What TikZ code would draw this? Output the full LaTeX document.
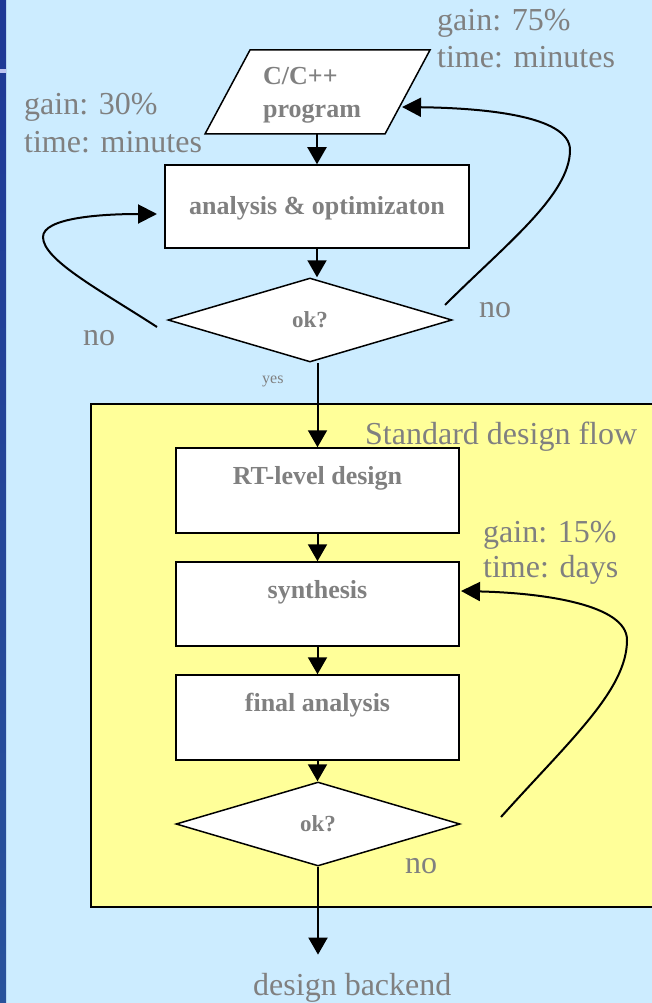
\documentclass[tikz,border=0pt]{standalone}
\usepackage{fontspec}
\setmainfont{Liberation Serif}
\usetikzlibrary{arrows.meta,shapes.geometric}
\definecolor{skyback}{RGB}{204,236,255}
\definecolor{flowyellow}{RGB}{255,255,153}
\definecolor{labelgray}{RGB}{128,128,128}
\definecolor{stripblue}{RGB}{30,56,150}
\definecolor{stripblueb}{RGB}{40,82,155}
\definecolor{stripband}{RGB}{190,195,240}

\begin{document}
\begin{tikzpicture}[x=1pt,y=-1pt,
  arr/.style={line width=2pt, -{Triangle[length=17pt,width=19pt]}},
  loopback/.style={line width=2pt, -{Triangle[length=19pt,width=19pt]}},
  stepbox/.style={draw, line width=1.5pt, fill=white, inner sep=0pt, text=labelgray,
    font=\fontsize{26}{32}\selectfont\bfseries},
  decision/.style={diamond, draw, line width=1.5pt, fill=white, inner sep=0pt, text=labelgray,
    font=\fontsize{23}{28}\selectfont\bfseries},
  note/.style={text=labelgray, inner sep=0pt, anchor=base west, font=\fontsize{32}{37}\selectfont},
]
\useasboundingbox (0,0) rectangle (652,1003);
% background and side strip
\fill[skyback] (0,0) rectangle (652,1003);
\shade[top color=stripblue, bottom color=stripblueb] (0,0) rectangle (6,1003);
\fill[stripband] (0,69) rectangle (6,73);

% standard design flow frame
\draw[line width=2pt, fill=flowyellow] (91,404) rectangle (670,907);
\node[note] (sdf) at (365,444) {Standard design flow};

% input program (parallelogram)
\draw[line width=1.5pt, fill=white] (250,50) -- (430,50) -- (385,134) -- (205,134) -- cycle;
\node[text=labelgray, inner sep=0pt, anchor=west, align=left,
  font=\fontsize{26}{33}\selectfont\bfseries] (prog) at (263,95) {C/C++\\program};
\coordinate (progbot) at (317,134);
\coordinate (progright) at (402,107);

% steps
\node[stepbox, minimum width=304pt, text height=49pt, text depth=34pt] (ana) at (317,206.5) {analysis \& optimizaton};
\node[decision, minimum width=284pt, minimum height=84pt] (d1) at (310,320) {ok?};
\node[stepbox, minimum width=283pt, text height=36pt, text depth=49pt] (rt) at (317.5,490.5) {RT-level design};
\node[stepbox, minimum width=283pt, text height=36pt, text depth=48pt] (syn) at (317.5,604) {synthesis};
\node[stepbox, minimum width=283pt, text height=36pt, text depth=49pt] (fin) at (317.5,717.5) {final analysis};
\node[decision, minimum width=284pt, minimum height=84pt] (d2) at (318,824) {ok?};
\node[note] (be) at (253,995) {design backend};

% main flow
\draw[arr] (progbot) -- (ana.north);
\draw[arr] (ana.south) -- (ana.south |- d1.north);
\draw[arr] (d1.south -| rt.north) -- (rt.north);
\draw[arr] (rt.south) -- (syn.north);
\draw[arr] (syn.south) -- (fin.north);
\draw[arr] (fin.south) -- (fin.south |- d2.north);
\draw[arr, shorten >=18pt] (d2.south) -- (d2.south |- be.north);

% feedback loops
\coordinate (loopa) at (445,305);
\draw[loopback] (loopa) .. controls (505,245) and (570,195) .. (570,150)
  .. controls (570,115) and (480,108) .. (progright);
\coordinate (loopb) at (157,327);
\coordinate (anain) at (157,214);
\draw[loopback] (loopb) .. controls (100,290) and (43,260) .. (43,237)
  .. controls (43,218) and (100,214) .. (anain);
\coordinate (loopc) at (501,817);
\coordinate (synin) at (461,591);
\draw[loopback] (loopc) .. controls (570,740) and (627,690) .. (627,640)
  .. controls (627,605) and (545,593) .. (synin);

% labels
\node[note] (g75) at (437,31) {gain: 75\%};
\node[note] (t75) at (437,68) {time: minutes};
\node[note] (g30) at (24,115) {gain: 30\%};
\node[note] (t30) at (24,153) {time: minutes};
\node[note] (g15) at (483,542) {gain: 15\%};
\node[note] (t15) at (483,577) {time: days};
\node[note] (no1) at (479,317) {no};
\node[note] (no2) at (83,345) {no};
\node[note] (no3) at (405,873) {no};
\node[note, font=\fontsize{16}{19}\selectfont] (yes) at (262,383) {yes};
\end{tikzpicture}
\end{document}
